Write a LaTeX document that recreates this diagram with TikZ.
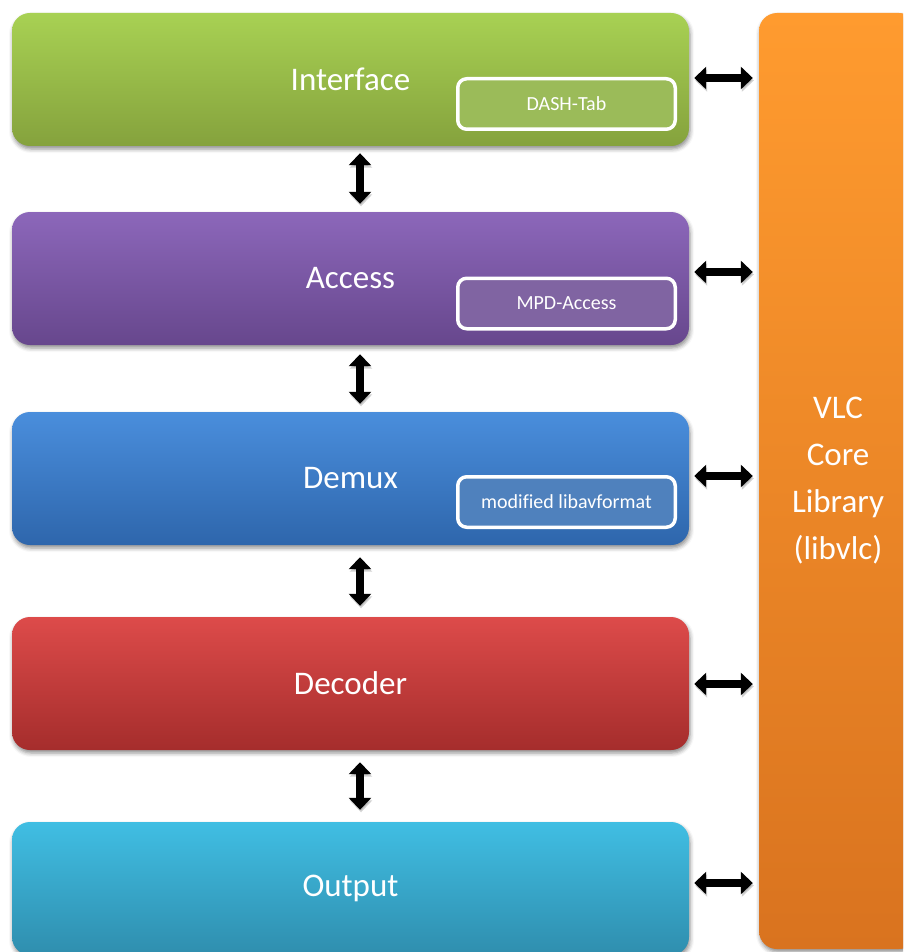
\documentclass[tikz,border=0pt]{standalone}
\usepackage{fontspec}
\setmainfont{Carlito}[Ligatures=NoCommon]
\usetikzlibrary{arrows.meta,shadows.blur,calc}
\definecolor{greenT}{HTML}{A8D153}
\definecolor{greenB}{HTML}{85A23D}
\definecolor{greenI}{HTML}{9BBB59}
\definecolor{purpT}{HTML}{8C67BA}
\definecolor{purpB}{HTML}{67478D}
\definecolor{purpI}{HTML}{8064A2}
\definecolor{blueT}{HTML}{4A8EDC}
\definecolor{blueB}{HTML}{2E66AC}
\definecolor{blueI}{HTML}{4F81BD}
\definecolor{redT}{HTML}{DD4B4A}
\definecolor{redB}{HTML}{A52D2C}
\definecolor{cyanT}{HTML}{40BEE3}
\definecolor{cyanB}{HTML}{2F8EAE}
\definecolor{orT}{HTML}{FF9B2F}
\definecolor{orB}{HTML}{D9731F}
\begin{document}
\begin{tikzpicture}[x=1pt,y=-1pt,
  layer/.style={rounded corners=18pt, minimum width=677pt, minimum height=133pt,
    inner sep=0pt, text=white, font=\fontsize{33}{40}\selectfont,
    blur shadow={shadow xshift=1pt, shadow yshift=-3pt, shadow blur radius=4pt, shadow opacity=45}},
  subbox/.style={rounded corners=9pt, draw=white, line width=3.5pt,
    minimum width=217.5pt, minimum height=50.5pt, inner sep=0pt,
    text=white, font=\fontsize{20}{24}\selectfont},
  dbl/.style={line width=8.5pt, black,
    {Triangle[width=22pt,length=12pt]}-{Triangle[width=22pt,length=12pt]},
    preaction={draw=black!60, opacity=0.3, transform canvas={xshift=1pt,yshift=-2.5pt}}}
]
\useasboundingbox (0,0) rectangle (903,952);
\clip (0,0) rectangle (903,952);

\node[layer, top color=greenT, bottom color=greenB] (iface) at (350.5,79.5) {Interface};
\node[layer, top color=purpT, bottom color=purpB] (access) at (350.5,278.5) {Access};
\node[layer, top color=blueT, bottom color=blueB] (demux) at (350.5,478.5) {Demux};
\node[layer, top color=redT, bottom color=redB] (decoder) at (350.5,683.5) {Decoder};
\node[layer, top color=cyanT, bottom color=cyanB] (output) at (350.5,888.5) {Output};

\node[layer, minimum width=158pt, minimum height=936pt, top color=orT, bottom color=orB,
  align=center, font=\fontsize{33}{47}\selectfont] (vlc) at (838,481)
  {VLC\\Core\\Library\\(libvlc)};

\node[subbox, fill=greenI] (dash) at (566.5,104) {DASH-Tab};
\node[subbox, fill=purpI] (mpd) at (566.5,303.5) {MPD-Access};
\node[subbox, fill=blueI] (libav) at (566.5,502) {modified libavformat};

% vertical arrows
\draw[dbl] ($(iface.south)+(9.5,7)$) -- ($(access.north)+(9.5,-8)$);
\draw[dbl] ($(access.south)+(9.5,9)$) -- ($(demux.north)+(9.5,-8)$);
\draw[dbl] ($(demux.south)+(9.5,12)$) -- ($(decoder.north)+(9.5,-11)$);
\draw[dbl] ($(decoder.south)+(9.5,12)$) -- ($(output.north)+(9.5,-12)$);

% horizontal arrows
\draw[dbl] ($(iface.east)+(5,-1.5)$) -- ($(iface.east -| vlc.west)+(-6,-1.5)$);
\draw[dbl] ($(access.east)+(5,-6.5)$) -- ($(access.east -| vlc.west)+(-6,-6.5)$);
\draw[dbl] ($(demux.east)+(5,-2.5)$) -- ($(demux.east -| vlc.west)+(-6,-2.5)$);
\draw[dbl] ($(decoder.east)+(5,0.5)$) -- ($(decoder.east -| vlc.west)+(-6,0.5)$);
\draw[dbl] ($(output.east)+(5,-5.5)$) -- ($(output.east -| vlc.west)+(-6,-5.5)$);
\end{tikzpicture}
\end{document}
